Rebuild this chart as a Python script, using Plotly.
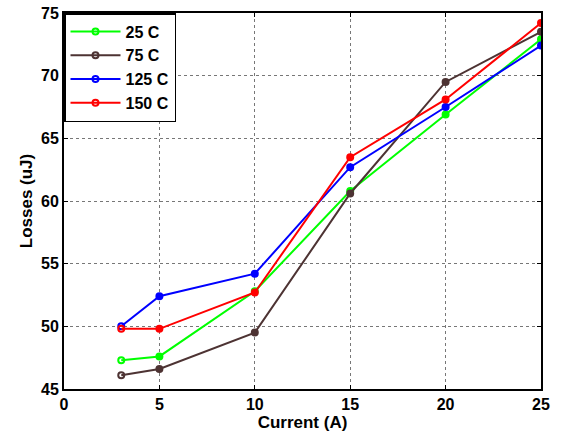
import plotly.graph_objects as go

current = [3, 5, 10, 15, 20, 25]
loss_25 = [47.3, 47.6, 52.8, 60.8, 66.9, 72.9]
loss_75 = [46.1, 46.6, 49.5, 60.6, 69.5, 73.5]
loss_125 = [50.0, 52.4, 54.2, 62.7, 67.5, 72.4]
loss_150 = [49.8, 49.8, 52.7, 63.5, 68.1, 74.2]

names = ["25 C", "75 C", "125 C", "150 C"]
colors = ["#00ff00", "#4d3333", "#0000ff", "#ff0000"]
series = [loss_25, loss_75, loss_125, loss_150]

FAM = "Liberation Sans, Arial, sans-serif"

fig = go.Figure()
for name, color, ys in zip(names, colors, series):
    fig.add_trace(go.Scatter(
        x=current, y=ys, name="<b>" + name + "</b>", mode="lines+markers",
        line=dict(color=color, width=2),
        marker=dict(color=color, size=6,
                    symbol=["circle-open"] + ["circle"] * (len(ys) - 1),
                    line=dict(color=color, width=2)),
    ))

axis_common = dict(
    showline=True, linecolor="black", linewidth=2, mirror="ticks",
    showgrid=True, gridcolor="#777777", griddash="dot", gridwidth=1,
    ticks="inside", ticklen=4, tickcolor="black", zeroline=False,
    automargin=False,
    tickfont=dict(family=FAM, size=16, color="black"),
)
fig.update_layout(
    width=564, height=438,
    margin=dict(l=64, r=23, t=13, b=49),
    paper_bgcolor="white", plot_bgcolor="white",
    font=dict(family=FAM, size=14, color="black"),
    showlegend=True,
    legend=dict(x=0, y=1, xanchor="left", yanchor="top",
                bgcolor="white", bordercolor="black", borderwidth=1.5,
                font=dict(family=FAM, size=16, color="black"),
                itemwidth=50),
    xaxis=dict(range=[0, 25], tickvals=[0, 5, 10, 15, 20, 25],
               ticktext=["<b>%d</b>" % v for v in [0, 5, 10, 15, 20, 25]],
               title=dict(text="<b>Current (A)</b>", standoff=0,
                          font=dict(size=17, family=FAM)),
               **axis_common),
    yaxis=dict(range=[45, 75], tickvals=[45, 50, 55, 60, 65, 70, 75],
               ticktext=["<b>%d</b>" % v for v in [45, 50, 55, 60, 65, 70, 75]],
               title=dict(text="<b>Losses (uJ)</b>", standoff=4,
                          font=dict(size=17, family=FAM)),
               **axis_common),
)

fig.write_html("out.html", config={"displayModeBar": False},
               post_script="document.body.style.margin='0';document.body.style.padding='0';")
